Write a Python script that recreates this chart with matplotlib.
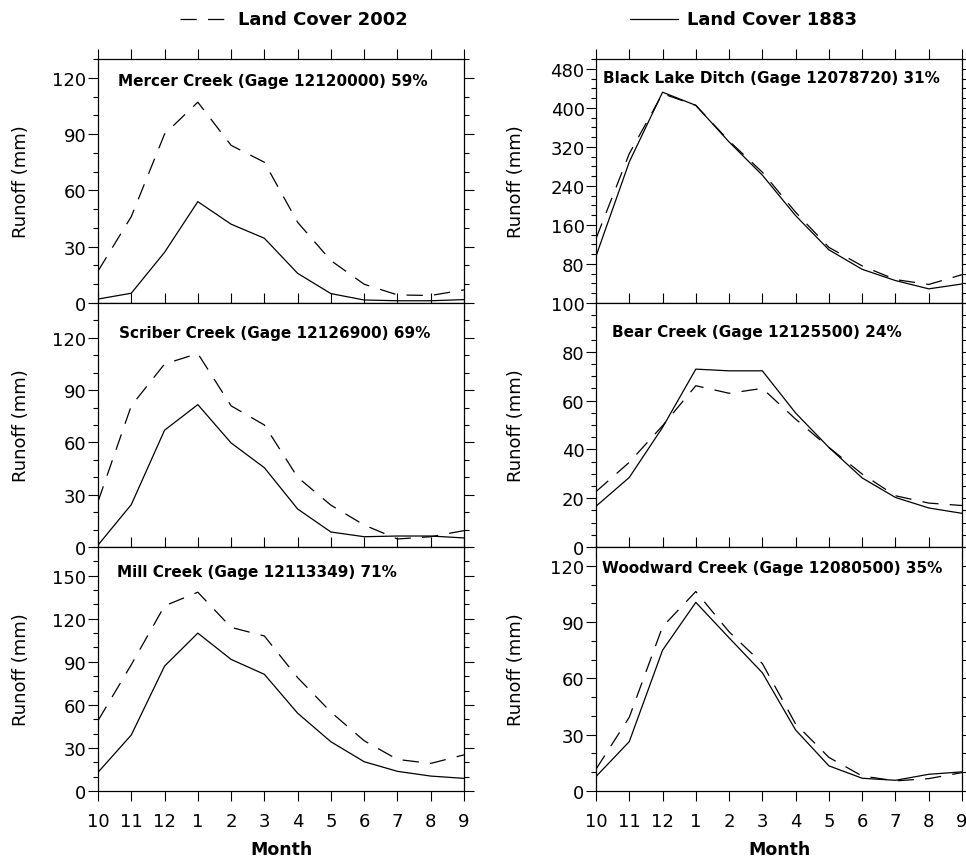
import numpy as np
import matplotlib
matplotlib.use('Agg')
import matplotlib.pyplot as plt
from matplotlib.ticker import MultipleLocator, FixedLocator
from matplotlib.lines import Line2D

# month labels (water year, Oct -> Sep)
months = ['10', '11', '12', '1', '2', '3', '4', '5', '6', '7', '8', '9']

titles = ['Mercer Creek (Gage 12120000) 59%',
          'Black Lake Ditch (Gage 12078720) 31%',
          'Scriber Creek (Gage 12126900) 69%',
          'Bear Creek (Gage 12125500) 24%',
          'Mill Creek (Gage 12113349) 71%',
          'Woodward Creek (Gage 12080500) 35%']

# runoff (mm), land cover 2002 (dashed)
mercer_2002 = [17, 46, 90, 107, 84, 75, 43, 22.6, 10, 4.3, 4, 7]
black_2002 = [132, 306, 429, 405, 332, 268, 186, 114, 76, 48, 38, 58]
scriber_2002 = [26, 81, 105, 111, 81, 70, 40, 24, 12.6, 4.6, 5.9, 9.4]
bear_2002 = [22.7, 34.7, 49.7, 66.1, 63, 65, 52.4, 40.8, 29.9, 21, 18, 17]
mill_2002 = [49, 88, 129, 138.5, 114, 108, 79, 55, 35, 22, 19.2, 25.2]
woodward_2002 = [11.6, 39.3, 87.5, 106.3, 84.8, 67.9, 35.7, 17.9, 8, 5.4, 6.6, 9.8]

# runoff (mm), land cover 1883 (solid)
mercer_1883 = [2.1, 5.2, 27, 54, 42, 34.5, 15.8, 5, 1.6, 1.2, 1.2, 1.8]
black_1883 = [96, 289, 432, 405, 330, 262, 179, 109, 69, 46, 29, 39]
scriber_1883 = [1.1, 24.3, 67, 81.7, 59.7, 45.5, 21.8, 8.6, 5.9, 6.3, 6.3, 5.2]
bear_1883 = [16.7, 28.5, 49, 72.9, 72.2, 72.2, 54.9, 40.8, 28.3, 20.3, 16, 13.8]
mill_1883 = [13, 39, 87, 110, 91.7, 81.3, 54.2, 34.3, 20.4, 13.7, 10.4, 8.8]
woodward_1883 = [7.7, 26.3, 75, 100.5, 81.6, 63, 32.5, 13.4, 6.8, 5.7, 8.9, 10.2]

runoff_2002 = [mercer_2002, black_2002, scriber_2002, bear_2002, mill_2002, woodward_2002]
runoff_1883 = [mercer_1883, black_1883, scriber_1883, bear_1883, mill_1883, woodward_1883]

# axis setup per panel: ylim top, major ticks, minor step
ytop = [130, 500, 140, 100, 170, 130]
ymajor = [[0, 30, 60, 90, 120],
          [80, 160, 240, 320, 400, 480],
          [0, 30, 60, 90, 120],
          [0, 20, 40, 60, 80, 100],
          [0, 30, 60, 90, 120, 150],
          [0, 30, 60, 90, 120]]
yminor = [10, 20, 10, 5, 10, 10]
# title anchor (axes fraction, left edge / vertical centre)
title_pos = [(0.055, 0.91), (0.019, 0.926), (0.058, 0.881),
             (0.044, 0.885), (0.052, 0.898), (0.016, 0.914)]

plt.rcParams['font.family'] = ['DejaVu Sans']

W, H = 966, 862
fig = plt.figure(figsize=(W / 100, H / 100), dpi=100)

lefts = [98, 596]
width = 366
tops = [60, 304, 548]
height = 244

x = np.arange(len(months))
for i in range(6):
    row, col = divmod(i, 2)
    ax = fig.add_axes([lefts[col] / W, 1 - (tops[row] + height) / H, width / W, height / H])
    ax.plot(x, runoff_1883[i], color='black', lw=0.9)
    ax.plot(x, runoff_2002[i], color='black', lw=0.9, dashes=(13, 9))
    ax.set_xlim(0, 11)
    ax.set_ylim(0, ytop[i])
    ax.xaxis.set_major_locator(FixedLocator(x))
    ax.yaxis.set_major_locator(FixedLocator(ymajor[i]))
    ax.yaxis.set_minor_locator(MultipleLocator(yminor[i]))
    ax.tick_params(which='both', direction='out', top=True, right=True, width=0.8)
    ax.tick_params(which='major', length=7.2)
    ax.tick_params(which='minor', length=3.6)
    ax.tick_params(axis='y', labelsize=13, pad=1)
    ax.tick_params(axis='x', labelsize=13, pad=8)
    for s in ax.spines.values():
        s.set_linewidth(0.9)
    if row == 2:
        ax.set_xticklabels(months)
        ax.set_xlabel('Month', fontsize=12.5, fontweight='bold')
        ax.xaxis.set_label_coords(0.5, -0.2)
    else:
        ax.set_xticklabels([])
    ax.set_ylabel('Runoff (mm)', fontsize=13)
    ax.yaxis.set_label_coords(-0.186 if col == 0 else -0.194, 0.5)
    tx, ty = title_pos[i]
    ax.text(tx, ty, titles[i], transform=ax.transAxes, ha='left', va='center',
            fontsize=11, fontweight='bold')

# legend at the top
ly = 1 - 20 / H
fig.add_artist(Line2D([180 / W, 228 / W], [ly, ly], color='black', lw=0.9, dashes=(13, 9)))
fig.text(238 / W, ly, 'Land Cover 2002', fontsize=13, fontweight='bold', va='center')
fig.add_artist(Line2D([630 / W, 678 / W], [ly, ly], color='black', lw=0.9))
fig.text(687 / W, ly, 'Land Cover 1883', fontsize=13, fontweight='bold', va='center')

plt.savefig('out.png', dpi=100)
